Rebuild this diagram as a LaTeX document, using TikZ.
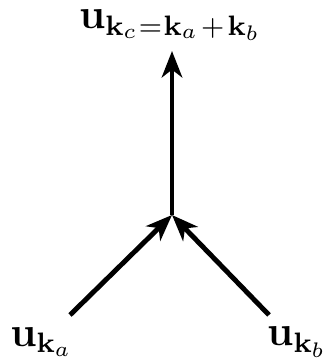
\documentclass[tikz,border=0pt]{standalone}
\usepackage{amsmath,amssymb}
\usepackage{tikz}
\usetikzlibrary{arrows.meta, positioning}
\tikzstyle{arrow} = [-{Stealth[length=7.5pt, width=5.8pt, inset=2.2pt]}, line width=1.4pt]
\tikzstyle{mode} = [inner sep=1pt, font=\large]

\begin{document}
\begin{tikzpicture}
  \useasboundingbox (0,0) rectangle (3.3,3.61);
  \coordinate (v) at (1.72,1.46);
  \coordinate (top) at (1.72,3.10);
  \coordinate (sa) at (0.70,0.46);
  \coordinate (sb) at (2.69,0.46);

  \node (uc) [mode] at (1.70,3.36) {$\mathbf{u}_{\mathbf{k}_c\mkern1mu=\mkern1mu\mathbf{k}_a\mkern2mu+\mkern2mu\mathbf{k}_b}$};
  \node (ua) [mode] at (0.415,0.19) {$\mathbf{u}_{\mathbf{k}_a}$};
  \node (ub) [mode] at (2.97,0.19) {$\mathbf{u}_{\mathbf{k}_b}$};

  \draw[arrow] (sa)--(v);
  \draw[arrow] (sb)--(v);
  \draw[arrow] (v)--(top);
\end{tikzpicture}
\end{document}
